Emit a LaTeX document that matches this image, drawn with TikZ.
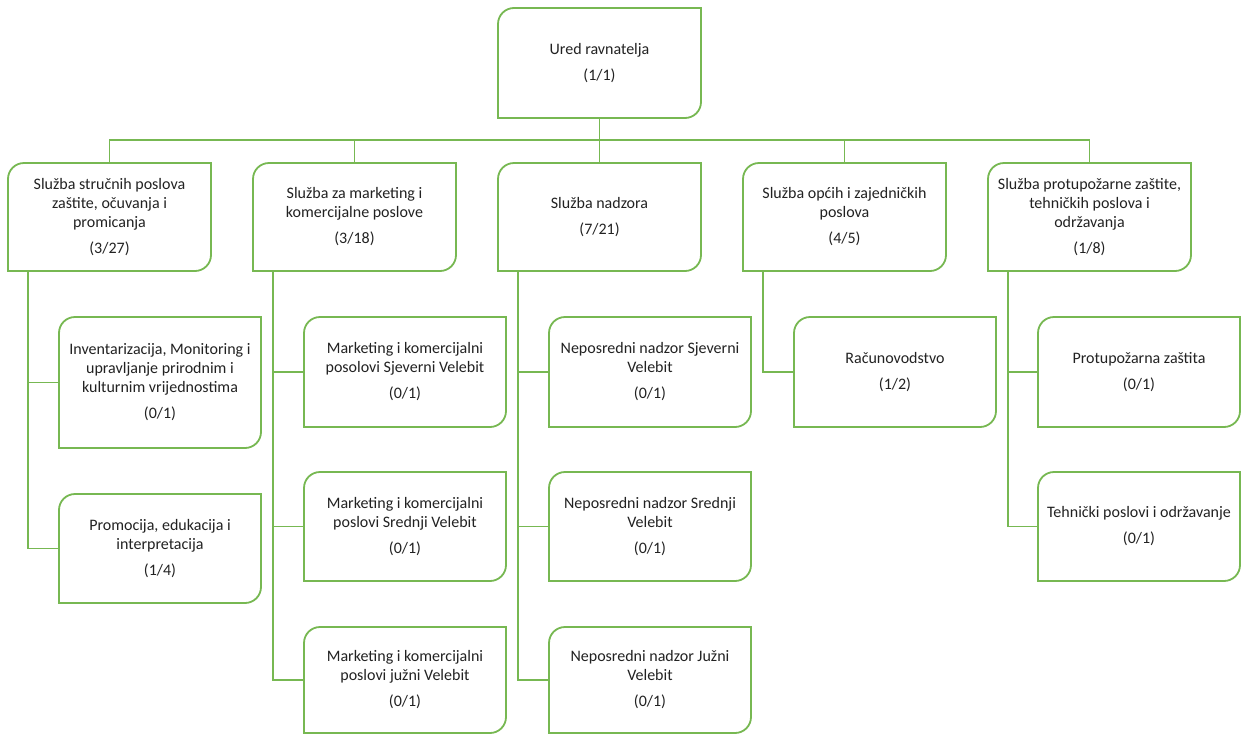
\documentclass[tikz,border=0pt]{standalone}
\usepackage{fontspec}
\setmainfont{Carlito}
\usetikzlibrary{calc}
\definecolor{lg}{HTML}{77B852}
\definecolor{tx}{HTML}{222222}
\tikzset{
  unit/.style={rectangle, inner sep=2pt, outer sep=0pt, minimum width=203pt, minimum height=108pt, align=center, text=tx, font=\fontsize{16}{19}\selectfont},
  sub/.style={unit, minimum width=202pt},
  frame/.style={draw=lg, line width=1.8pt},
  link/.style={draw=lg, line width=1.8pt},
}
\newcommand\roundframe[1]{\draw[frame] (#1.south west) -- ([yshift=-16pt]#1.north west) arc[start angle=180,end angle=90,radius=16pt] -- (#1.north east) -- ([yshift=16pt]#1.south east) arc[start angle=0,end angle=-90,radius=16pt] -- cycle;}
\begin{document}
\begin{tikzpicture}[x=1pt,y=-1pt]
\useasboundingbox[fill=white] (0,0) rectangle (1241,734);
% top
\node[unit, minimum height=110pt] (top) at (599.5,63) {Ured ravnatelja\\[7pt](1/1)};
% level 1
\node[unit] (s1) at (109.5,217) {Služba stručnih poslova\\zaštite, očuvanja i\\promicanja\\[7pt](3/27)};
\node[unit] (s2) at (354.5,217) {Služba za marketing i\\komercijalne poslove\\[7pt](3/18)};
\node[unit] (s3) at (599.5,217) {Služba nadzora\\[7pt](7/21)};
\node[unit] (s4) at (844.5,217) {Služba općih i zajedničkih\\poslova\\[7pt](4/5)};
\node[unit] (s5) at (1089.5,217) {Služba protupožarne zaštite,\\tehničkih poslova i\\održavanja\\[7pt](1/8)};
% level 2
\node[sub, minimum height=131pt] (c11) at (160,382.5) {Inventarizacija, Monitoring i\\upravljanje prirodnim i\\kulturnim vrijednostima\\[7pt](0/1)};
\node[sub, minimum height=109pt] (c12) at (160,548.5) {Promocija, edukacija i\\interpretacija\\[7pt](1/4)};
\node[sub, minimum height=110pt] (c21) at (405,372) {Marketing i komercijalni\\posolovi Sjeverni Velebit\\[7pt](0/1)};
\node[sub, minimum height=109pt] (c22) at (405,526.5) {Marketing i komercijalni\\poslovi Srednji Velebit\\[7pt](0/1)};
\node[sub, minimum height=106pt] (c23) at (405,680) {Marketing i komercijalni\\poslovi južni Velebit\\[7pt](0/1)};
\node[sub, minimum height=110pt] (c31) at (650,372) {Neposredni nadzor Sjeverni\\Velebit\\[7pt](0/1)};
\node[sub, minimum height=109pt] (c32) at (650,526.5) {Neposredni nadzor Srednji\\Velebit\\[7pt](0/1)};
\node[sub, minimum height=106pt] (c33) at (650,680) {Neposredni nadzor Južni\\Velebit\\[7pt](0/1)};
\node[sub, minimum height=110pt] (c41) at (895,372) {Računovodstvo\\[7pt](1/2)};
\node[sub, minimum height=110pt] (c51) at (1139,372) {Protupožarna zaštita\\[7pt](0/1)};
\node[sub, minimum height=109pt] (c52) at (1139,526.5) {Tehnički poslovi i održavanje\\[7pt](0/1)};
% frames
\foreach \n in {top,s1,s2,s3,s4,s5,c11,c12,c21,c22,c23,c31,c32,c33,c41,c51,c52}{\roundframe{\n}}
% bus
\coordinate (bus) at (599.5,140);
\draw[link] (top.south) -- (bus);
\draw[link] (s1.north) -- (s1.north |- bus) -- (s5.north |- bus) -- (s5.north);
\draw[link] (s2.north) -- (s2.north |- bus);
\draw[link] (s3.north) -- (s3.north |- bus);
\draw[link] (s4.north) -- (s4.north |- bus);
% spines
\draw[link] ([xshift=20pt]s1.south west) |- (c11.west);
\draw[link] ([xshift=20pt]s1.south west) |- (c12.west);
\draw[link] ([xshift=20pt]s2.south west) |- (c21.west);
\draw[link] ([xshift=20pt]s2.south west) |- (c22.west);
\draw[link] ([xshift=20pt]s2.south west) |- (c23.west);
\draw[link] ([xshift=20pt]s3.south west) |- (c31.west);
\draw[link] ([xshift=20pt]s3.south west) |- (c32.west);
\draw[link] ([xshift=20pt]s3.south west) |- (c33.west);
\draw[link] ([xshift=20pt]s4.south west) |- (c41.west);
\draw[link] ([xshift=20pt]s5.south west) |- (c51.west);
\draw[link] ([xshift=20pt]s5.south west) |- (c52.west);
\end{tikzpicture}
\end{document}
